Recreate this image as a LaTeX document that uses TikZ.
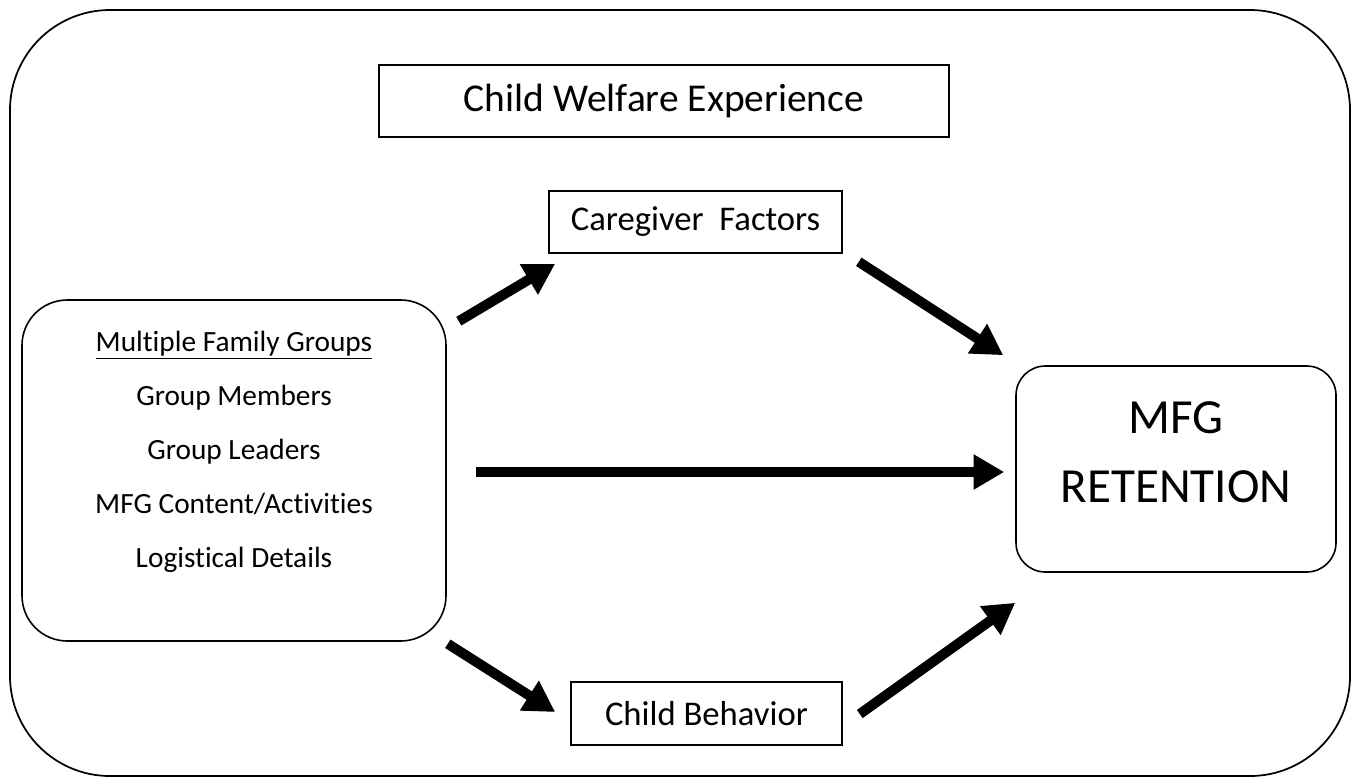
\documentclass[tikz,border=0pt]{standalone}
\usepackage{fontspec}
\setmainfont{Carlito}[Ligatures=NoCommon]
\usepackage{tikz}
\usetikzlibrary{arrows.meta,positioning,calc}

\begin{document}
\begin{tikzpicture}[
    x=0.75pt, y=-0.75pt,
    box/.style={draw, line width=1.2pt, inner sep=0pt},
    roundbox/.style={box, rounded corners=34pt},
    bigarrow/.style={-{Triangle[length=23pt,width=25pt]}, line width=7.5pt}
]
    \useasboundingbox (0,0) rectangle (1359,779);

    % Frame
    \draw[line width=1.3pt, rounded corners=75pt] (10,10) rectangle (1350,776);

    % Boxes
    \node[box, minimum width=427.5pt, minimum height=54pt, font=\fontsize{29.6}{34}\selectfont] (welfare) at (664,101) {Child Welfare Experience};
    \node[box, minimum width=219.75pt, minimum height=46.5pt, font=\fontsize{26}{30}\selectfont] (care) at (695.5,222) {Caregiver\ \ Factors};
    \node[box, minimum width=203.25pt, minimum height=47.25pt, font=\fontsize{26}{30}\selectfont] (behav) at (706.5,713.5) {Child Behavior};
    \node[roundbox, minimum width=318pt, minimum height=255.75pt] (fam) at (234,470.5) {};
    \node[roundbox, rounded corners=22pt, minimum width=240pt, minimum height=154.5pt] (mfg) at (1176,469) {};

    % Box texts
    \node[align=center, font=\fontsize{22}{40.5}\selectfont] (famlist) at (234,451.5)
        {\underline{Multiple Family Groups}\\ Group Members\\ Group Leaders\\ MFG Content/Activities\\ Logistical Details};
    \node[align=center, font=\fontsize{36.8}{51.75}\selectfont] (retention) at (1176,452.5) {MFG\\ RETENTION};

    % Arrows
    \draw[bigarrow] ($(fam.north east)+(12,22)$) -- ($(care.south west)+(7,10)$);
    \draw[bigarrow] ($(care.south east)+(16,8)$) -- ($(mfg.north west)+(-12,-10)$);
    \draw[bigarrow] ($(fam.east)+(29,1.5)$) -- ($(mfg.west)+(-11,3)$);
    \draw[bigarrow] ($(fam.south east)+(1,2)$) -- ($(behav.west)+(-15,-1.5)$);
    \draw[bigarrow] ($(behav.east)+(17,0.5)$) -- ($(mfg.south west)+(0,30)$);
\end{tikzpicture}
\end{document}
